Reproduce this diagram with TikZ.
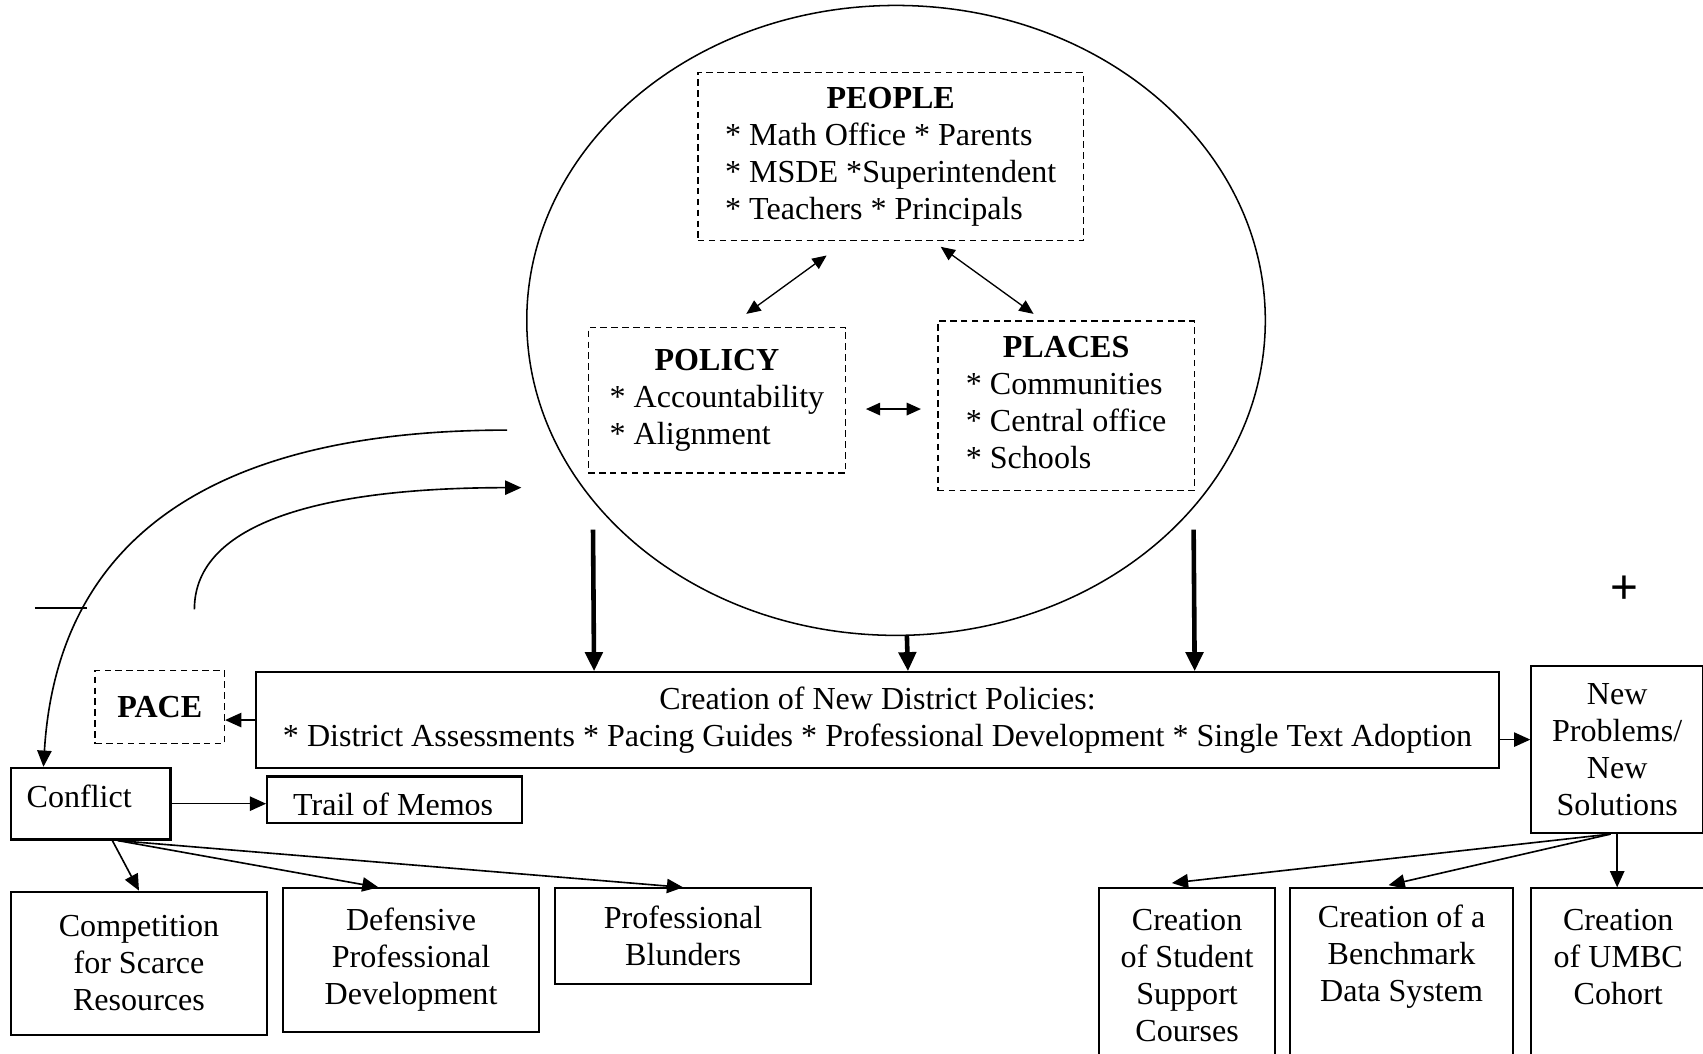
\documentclass[tikz,border=0pt]{standalone}
\usepackage{fontspec}
\setmainfont{Liberation Serif}
\newfontfamily\plusfont{Liberation Sans}
\usepackage{tikz}
\usetikzlibrary{arrows.meta,shapes.geometric}

\newcommand\unitpx{0.02cm}

\begin{document}
\begin{tikzpicture}[x=0.02cm,y=-0.02cm,
  font=\fontsize{16.8}{19.4}\selectfont,
  box/.style={draw,line width=1.1pt,inner sep=0pt,anchor=north west,align=center},
  dbox/.style={draw,line width=0.7pt,dash pattern=on 3.4pt off 2.3pt,inner sep=0pt,anchor=north west,align=center},
  arr/.style={line width=0.85pt,-{Triangle[length=8.5pt,width=7.5pt]}},
  darr/.style={line width=0.7pt,{Triangle[length=7.5pt,width=6.5pt]}-{Triangle[length=7.5pt,width=6.5pt]}},
  bigarr/.style={line width=2.4pt,-{Triangle[length=10pt,width=9pt]}}]
  \useasboundingbox (0,0) rectangle (1568,970);

  % Ring round the three P's
  \node[draw,ellipse,line width=0.8pt,inner sep=0pt,minimum width=680*\unitpx,minimum height=580*\unitpx] (ring) at (825,295) {};

  % People, policy, places
  \node[dbox,minimum width=355*\unitpx,minimum height=155*\unitpx] (people) at (642,66)
    {\begin{tabular}{@{}l@{}}\multicolumn{1}{@{}c@{}}{\textbf{PEOPLE}}\\{*} Math Office * Parents\\{*} MSDE *Superintendent\\{*} Teachers * Principals\end{tabular}};
  \node[dbox,minimum width=237*\unitpx,minimum height=134*\unitpx] (policy) at (541,301)
    {\begin{tabular}{@{}l@{}}\multicolumn{1}{@{}c@{}}{\textbf{POLICY}}\\{*} Accountability\\{*} Alignment\end{tabular}};
  \node[dbox,minimum width=236*\unitpx,minimum height=156*\unitpx] (places) at (863,295)
    {\begin{tabular}{@{}l@{}}\multicolumn{1}{@{}c@{}}{\textbf{PLACES}}\\{*} Communities\\{*} Central office\\{*} Schools\end{tabular}};

  \draw[darr] ([shift={(-59,13)}]people.south) -- ([shift={(27,-12)}]policy.north);
  \draw[darr] ([shift={(46,5)}]people.south) -- ([shift={(-30,-6)}]places.north);
  \draw[darr,line width=1pt] ([shift={(18,8)}]policy.east) -- ([shift={(-15,3)}]places.west);

  % New district policies
  \node[box,minimum width=1144*\unitpx,minimum height=88*\unitpx] (policies) at (235,618)
    {Creation of New District Policies:\\ * District Assessments * Pacing Guides * Professional Development * Single Text Adoption};

  \draw[bigarr] ([shift={(-279,-98)}]ring.south) -- ([shift={(-261,0)}]policies.north);
  \draw[bigarr] ([shift={(10,0)}]ring.south) -- ([shift={(28,0)}]policies.north);
  \draw[bigarr] ([shift={(274,-98)}]ring.south) -- ([shift={(292,0)}]policies.north);

  % PACE
  \node[dbox,minimum width=119*\unitpx,minimum height=67*\unitpx] (pace) at (87,617) {\textbf{PACE}};
  \draw[arr] (policies.west) -- (policies.west -| pace.east);

  % Conflict branch
  \node[box,minimum width=147*\unitpx,minimum height=66*\unitpx,text depth=8pt] (conflict) at (9,706) {Conflict\hspace{12pt}};
  \node[box,minimum width=235*\unitpx,minimum height=43*\unitpx] (trail) at (245,714) {};
  \begin{scope}
    \clip (248,716) rectangle (477,750);
    \node[anchor=base] (trailtxt) at (362,751) {Trail of Memos};
  \end{scope}
  \draw[arr] (conflict.east) -- (conflict.east -| trail.west);

  \node[box,minimum width=236*\unitpx,minimum height=132*\unitpx] (compete) at (9,820)
    {Competition\\for Scarce\\Resources};
  \node[box,minimum width=235*\unitpx,minimum height=132*\unitpx] (defend) at (260,817)
    {Defensive\\Professional\\Development};
  \node[box,minimum width=236*\unitpx,minimum height=88*\unitpx] (blunder) at (510,817)
    {Professional\\Blunders};

  \draw[arr] ([shift={(20,0)}]conflict.south) -- (compete.north);
  \draw[arr] ([shift={(25,0)}]conflict.south) -- ([shift={(-30,0)}]defend.north);
  \draw[arr] ([shift={(25,0)}]conflict.south) -- (blunder.north);

  % Feedback curves
  \coordinate (fbstart) at (467,396);
  \draw[arr] (fbstart) .. controls (250,396) and (55,460) .. ([shift={(31,0)}]conflict.north west);
  \coordinate (fbback) at (179,561);
  \coordinate (fbend) at (480,449);
  \draw[arr] (fbback) .. controls (179,480) and (300,449) .. (fbend);

  % Signs
  \draw[line width=1.3pt] (32,560) -- (80,560);
  \node[font=\plusfont\fontsize{25}{28}\selectfont] (plus) at (1496,543) {+};

  % New problems branch
  \node[box,minimum width=158*\unitpx,minimum height=154*\unitpx] (newprob) at (1409,612)
    {New\\Problems/\\New\\Solutions};
  \draw[arr] ([shift={(0,18)}]policies.east) coordinate (pe) -- (pe -| newprob.west);

  \node[box,minimum width=162*\unitpx,minimum height=160*\unitpx] (student) at (1011,817)
    {Creation\\of Student\\Support\\Courses};
  \node[box,minimum width=205*\unitpx,minimum height=160*\unitpx] (bench) at (1187,817) {};
  \node[align=center] (benchtxt) at ([shift={(0,64)}]bench.north) {Creation of a\\Benchmark\\Data System};
  \node[box,minimum width=160*\unitpx,minimum height=160*\unitpx] (umbc) at (1409,817) {};
  \node[align=center] (umbctxt) at ([shift={(0,64)}]umbc.north) {Creation\\of UMBC\\Cohort};

  \draw[arr] ([shift={(-6,0)}]newprob.south) -- ([shift={(-14,-4)}]student.north);
  \draw[arr] ([shift={(-6,0)}]newprob.south) -- ([shift={(-12,-2)}]bench.north);
  \draw[arr] (newprob.south) -- (newprob.south |- umbc.north);

\end{tikzpicture}
\end{document}
